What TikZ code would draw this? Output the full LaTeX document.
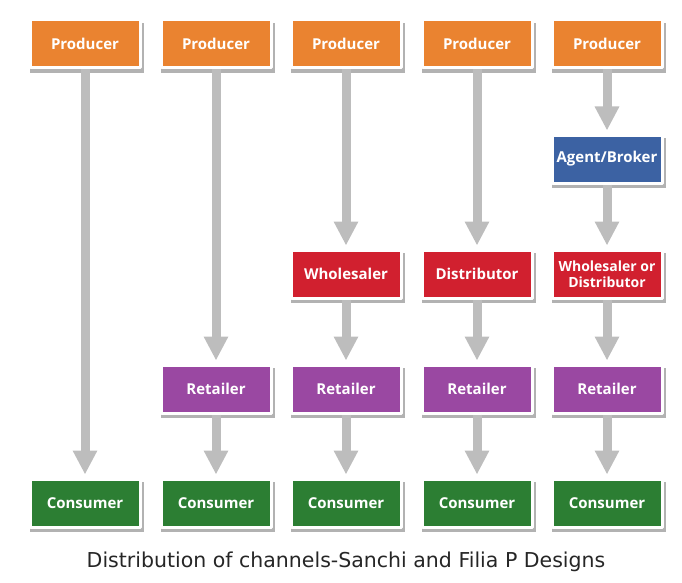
\documentclass[tikz,border=0pt]{standalone}
\usepackage{fontspec}
\newfontfamily\boxfont{Open Sans}
\newfontfamily\capfont{DejaVu Sans}
\usetikzlibrary{arrows.meta,shadows}

\definecolor{prodcol}{HTML}{EA8330}
\definecolor{agentcol}{HTML}{3C62A3}
\definecolor{redcol}{HTML}{D1202F}
\definecolor{retcol}{HTML}{9A48A2}
\definecolor{conscol}{HTML}{2C7E33}
\definecolor{flowcol}{HTML}{BDBDBD}

\tikzset{
  stage/.style={draw=white, line width=3pt, minimum width=110pt, minimum height=48pt,
    text=white, align=center, font=\boxfont\bfseries\fontsize{15}{17}\selectfont,
    drop shadow={shadow xshift=2pt, shadow yshift=-3.5pt, shadow scale=1.04, fill=black, opacity=0.3}},
  producer/.style={stage, fill=prodcol},
  agent/.style={stage, fill=agentcol},
  middle/.style={stage, fill=redcol},
  retailer/.style={stage, fill=retcol},
  consumer/.style={stage, fill=conscol},
  flow/.style={draw=flowcol, line width=9pt, -{Triangle[length=24pt,width=23pt]}, shorten >=3pt}
}

\begin{document}
\begin{tikzpicture}[x=1pt, y=-1pt, line join=round]
\useasboundingbox (0,0) rectangle (682,583);

% Producers (top row)
\foreach \i/\x in {1/85,2/216,3/346,4/477,5/607}
  \node[producer] (prod\i) at (\x,44) {Producer};

% Agent and middle men
\node[agent]  (agent)  at (607,159) {Agent/Broker};
\node[middle] (whole3) at (346,274) {Wholesaler};
\node[middle] (dist4)  at (477,274) {Distributor};
\node[middle, font=\boxfont\bfseries\fontsize{14}{16}\selectfont] (wd5) at (607,274) {Wholesaler or\\Distributor};

% Retailers
\foreach \i/\x in {2/216,3/346,4/477,5/607}
  \node[retailer] (ret\i) at (\x,389) {Retailer};

% Consumers (bottom row)
\foreach \i/\x in {1/85,2/216,3/346,4/477,5/607}
  \node[consumer] (cons\i) at (\x,503) {Consumer};

% the channels
\draw[flow] (prod1) -- (cons1);
\draw[flow] (prod2) -- (ret2);
\draw[flow] (ret2) -- (cons2);
\draw[flow] (prod3) -- (whole3);
\draw[flow] (whole3) -- (ret3);
\draw[flow] (ret3) -- (cons3);
\draw[flow] (prod4) -- (dist4);
\draw[flow] (dist4) -- (ret4);
\draw[flow] (ret4) -- (cons4);
\draw[flow] (prod5) -- (agent);
\draw[flow] (agent) -- (wd5);
\draw[flow] (wd5) -- (ret5);
\draw[flow] (ret5) -- (cons5);

% Caption
\node[text=black!85, font=\capfont\fontsize{20.5}{24}\selectfont] (caption) at (346,562)
  {Distribution of channels-Sanchi and Filia P Designs};
\end{tikzpicture}
\end{document}
